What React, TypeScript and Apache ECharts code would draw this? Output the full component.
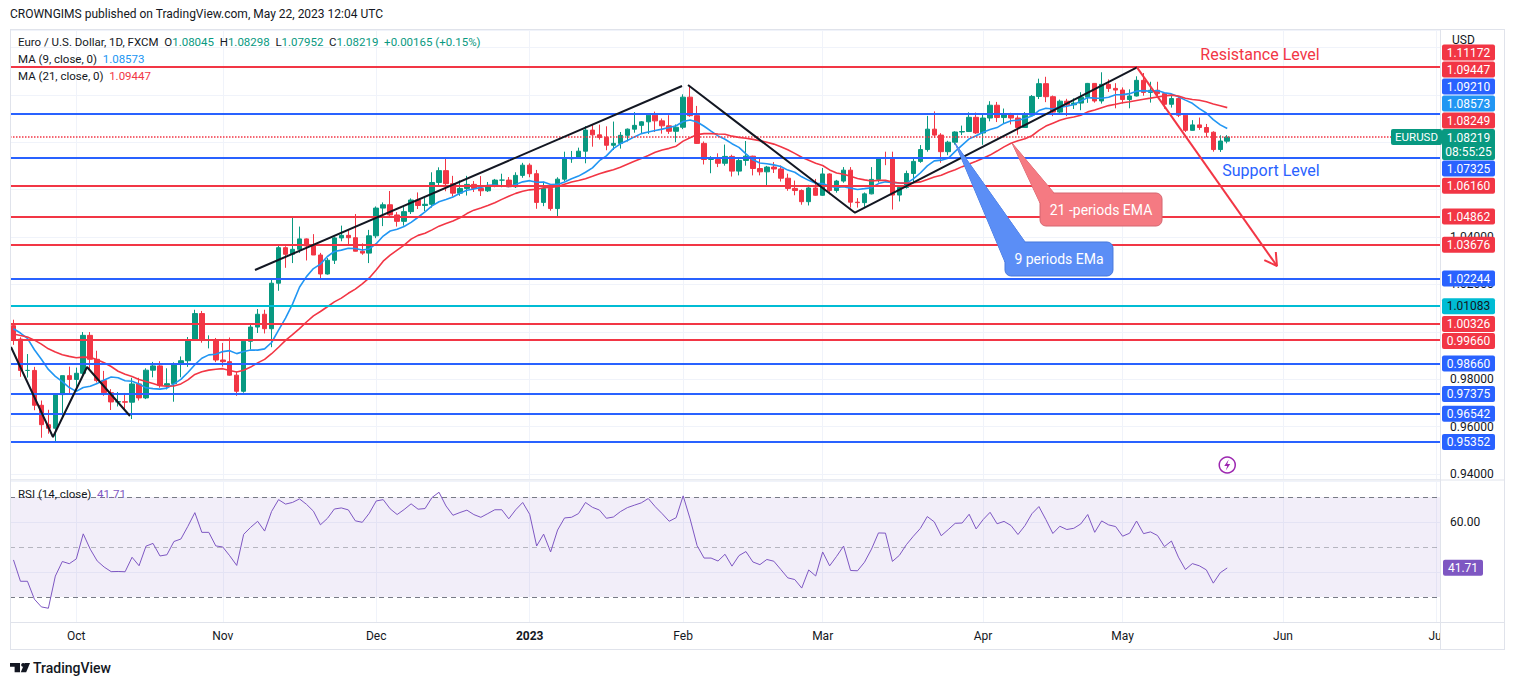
import { useEffect, useRef } from "react";
import * as echarts from "echarts";

const W = 1514;
const H = 685;
const FONT = "Roboto, 'Liberation Sans', sans-serif";
const INK = "#131722";
const RED = "#f23645";
const BLUE = "#2962ff";
const TEAL = "#00bcd4";
const UP = "#089981";
const MA9_COLOR = "#2196f3";
const MA21_COLOR = "#f23645";
const RSI_COLOR = "#7e57c2";
const GRID_LINE = "#f0f3fa";
const FRAME = "#e0e3eb";

// closes before the visible window (Jul 18 - Sep 19 2022), only used to seed MA / RSI
const warmupCloses = [
  1.0141, 1.0228, 1.018, 1.0229, 1.0211, 1.0223, 1.012, 1.0198, 1.0197, 1.022,
  1.026, 1.0163, 1.0168, 1.0246, 1.018,
  1.0196, 1.0212, 1.0297, 1.0321, 1.0258,
  1.0161, 1.017, 1.0178, 1.0086, 1.0039,
  0.9943, 0.9968, 0.9967, 0.9973, 0.9965,
  1.0003, 1.0017, 1.0054, 0.9946, 0.9953,
  0.9929, 0.9903, 1.001, 1.0001, 1.0041,
  1.0121, 0.9969, 0.9978, 0.9997, 1.0014,
  1.0026,
];

// one row per trading day from Sep 20 2022 to May 22 2023: [open, high, low, close]
const candles: number[][] = [
  // Sep
  [1.0026, 1.0051, 0.9945, 0.9969], [0.9969, 0.9977, 0.981, 0.9837], [0.9837, 0.9906, 0.9807, 0.9837],
  [0.9837, 0.9852, 0.9669, 0.969], [0.969, 0.971, 0.9553, 0.9608], [0.9608, 0.9671, 0.957, 0.9593],
  [0.9593, 0.9737, 0.9535, 0.9735], [0.9735, 0.9815, 0.9635, 0.9815], [0.9815, 0.9853, 0.9737, 0.9799],
  // Oct
  [0.9799, 0.9849, 0.975, 0.9825], [0.9825, 0.9999, 0.9815, 0.9985], [0.9985, 0.9999, 0.9835, 0.9884],
  [0.9884, 0.992, 0.9786, 0.9794], [0.9794, 0.9835, 0.973, 0.9743], [0.9743, 0.9758, 0.967, 0.9704],
  [0.9704, 0.9746, 0.9685, 0.9705], [0.9705, 0.9742, 0.9668, 0.9703], [0.9703, 0.9806, 0.9632, 0.978],
  [0.978, 0.9806, 0.971, 0.9721], [0.9721, 0.9846, 0.9716, 0.9838], [0.9838, 0.9873, 0.9808, 0.9856],
  [0.9856, 0.9876, 0.9764, 0.9774], [0.9774, 0.9846, 0.9757, 0.9781], [0.9781, 0.9871, 0.9705, 0.9862],
  [0.9862, 0.9896, 0.9808, 0.9878], [0.9878, 0.9978, 0.9852, 0.9965], [0.9965, 1.0093, 0.9962, 1.0077],
  [1.0077, 1.0088, 0.9954, 0.9965], [0.9965, 0.9985, 0.993, 0.9965], [0.9965, 0.9974, 0.9872, 0.9881],
  // Nov
  [0.9881, 0.9953, 0.9853, 0.9874], [0.9874, 0.9976, 0.9815, 0.9817], [0.9817, 0.9832, 0.973, 0.9749],
  [0.9749, 0.9965, 0.9743, 0.996], [0.996, 1.0034, 0.9925, 1.002], [1.002, 1.0096, 0.9995, 1.0074],
  [1.0074, 1.0093, 0.9993, 1.0013], [1.0013, 1.0222, 0.9935, 1.0205], [1.0205, 1.0364, 1.0173, 1.0355],
  [1.0355, 1.0361, 1.027, 1.0327], [1.0327, 1.0481, 1.029, 1.0348], [1.0348, 1.0444, 1.0333, 1.0392],
  [1.0392, 1.0394, 1.0301, 1.0362], [1.0362, 1.0412, 1.0325, 1.0324], [1.0324, 1.0333, 1.0223, 1.0244],
  [1.0244, 1.0311, 1.0241, 1.0302], [1.0302, 1.0401, 1.0286, 1.0396], [1.0396, 1.0448, 1.0382, 1.0407],
  [1.0407, 1.0429, 1.0362, 1.0397], [1.0397, 1.0497, 1.0341, 1.034], [1.034, 1.0373, 1.0325, 1.0332],
  [1.0332, 1.043, 1.029, 1.0405],
  // Dec
  [1.0405, 1.0529, 1.0395, 1.0522], [1.0522, 1.0546, 1.0446, 1.0536], [1.0536, 1.0594, 1.0485, 1.0493],
  [1.0493, 1.0505, 1.0444, 1.0466], [1.0466, 1.0531, 1.0448, 1.0507], [1.0507, 1.0563, 1.0497, 1.0556],
  [1.0556, 1.0588, 1.0518, 1.0533], [1.0533, 1.0567, 1.0509, 1.0538], [1.0538, 1.0673, 1.0524, 1.063],
  [1.063, 1.0694, 1.0618, 1.068], [1.068, 1.0735, 1.0593, 1.0625], [1.0625, 1.0658, 1.0571, 1.0585],
  [1.0585, 1.0639, 1.0574, 1.0605], [1.0605, 1.0658, 1.0575, 1.0622], [1.0622, 1.0636, 1.059, 1.0605],
  [1.0605, 1.0657, 1.0573, 1.0595], [1.0595, 1.0632, 1.059, 1.0617], [1.0617, 1.0645, 1.061, 1.064],
  [1.064, 1.0667, 1.061, 1.064], [1.064, 1.0653, 1.061, 1.0612], [1.0612, 1.0673, 1.0607, 1.066],
  [1.066, 1.0713, 1.065, 1.0703],
  // Jan
  [1.0703, 1.0711, 1.0652, 1.0667], [1.0667, 1.0683, 1.0519, 1.0546], [1.0546, 1.0633, 1.053, 1.0605],
  [1.0605, 1.0615, 1.0511, 1.052], [1.052, 1.0652, 1.0483, 1.0644], [1.0644, 1.076, 1.0636, 1.073],
  [1.073, 1.0763, 1.0713, 1.0735], [1.0735, 1.0777, 1.073, 1.0762], [1.0762, 1.0868, 1.0711, 1.0851],
  [1.0851, 1.0873, 1.0781, 1.0831], [1.0831, 1.0874, 1.0811, 1.082], [1.082, 1.0867, 1.0766, 1.0787],
  [1.0787, 1.0887, 1.0767, 1.0795], [1.0795, 1.0843, 1.0773, 1.0829], [1.0829, 1.0858, 1.0803, 1.0855],
  [1.0855, 1.0927, 1.084, 1.0871], [1.0871, 1.0889, 1.0835, 1.0886], [1.0886, 1.0918, 1.0835, 1.0914],
  [1.0914, 1.0929, 1.0843, 1.089], [1.089, 1.09, 1.0836, 1.0869], [1.0869, 1.0914, 1.0835, 1.0846],
  [1.0846, 1.0875, 1.08, 1.0863],
  // Feb
  [1.0863, 1.1002, 1.0855, 1.099], [1.099, 1.1033, 1.0907, 1.0912], [1.0912, 1.0953, 1.0793, 1.0795],
  [1.0795, 1.0803, 1.0706, 1.0727], [1.0727, 1.0741, 1.0669, 1.0727], [1.0727, 1.0753, 1.0695, 1.0711],
  [1.0711, 1.079, 1.0701, 1.074], [1.074, 1.0747, 1.0655, 1.0678], [1.0678, 1.0734, 1.066, 1.0723],
  [1.0723, 1.0805, 1.0701, 1.0741], [1.0741, 1.0743, 1.066, 1.0689], [1.0689, 1.073, 1.066, 1.0675],
  [1.0675, 1.07, 1.0612, 1.0695], [1.0695, 1.0716, 1.067, 1.0687], [1.0687, 1.0702, 1.0634, 1.0648],
  [1.0648, 1.0667, 1.0595, 1.0605], [1.0605, 1.0638, 1.0576, 1.0596], [1.0596, 1.0601, 1.0536, 1.0549],
  [1.0549, 1.062, 1.0533, 1.0607], [1.0607, 1.0645, 1.0574, 1.0576],
  // Mar
  [1.0576, 1.0691, 1.0573, 1.0666], [1.0666, 1.0669, 1.058, 1.0596], [1.0596, 1.0641, 1.0587, 1.0636],
  [1.0636, 1.0695, 1.0629, 1.0682], [1.0682, 1.0695, 1.0524, 1.0547], [1.0547, 1.0564, 1.0524, 1.0545],
  [1.0545, 1.0588, 1.0527, 1.0582], [1.0582, 1.0695, 1.058, 1.0643], [1.0643, 1.0737, 1.063, 1.0732],
  [1.0732, 1.076, 1.0703, 1.0731], [1.0731, 1.076, 1.0516, 1.0577], [1.0577, 1.0613, 1.055, 1.0609],
  [1.0609, 1.068, 1.0604, 1.0668], [1.0668, 1.073, 1.063, 1.0719], [1.0719, 1.0788, 1.0713, 1.0769],
  [1.0769, 1.0911, 1.076, 1.0855], [1.0855, 1.093, 1.0818, 1.083], [1.083, 1.0838, 1.0713, 1.076],
  [1.076, 1.0806, 1.0745, 1.08], [1.08, 1.0846, 1.079, 1.0843], [1.0843, 1.087, 1.083, 1.0845],
  [1.0845, 1.0926, 1.0843, 1.0905], [1.0905, 1.0925, 1.0835, 1.0839],
  // Apr
  [1.0839, 1.0919, 1.0789, 1.0902], [1.0902, 1.0973, 1.0888, 1.0956], [1.0956, 1.097, 1.0885, 1.0904],
  [1.0904, 1.0942, 1.0878, 1.092], [1.092, 1.0924, 1.0875, 1.0902], [1.0902, 1.0913, 1.0832, 1.0862],
  [1.0862, 1.0927, 1.086, 1.0914], [1.0914, 1.0999, 1.0911, 1.0993], [1.0993, 1.1068, 1.0982, 1.1047],
  [1.1047, 1.1076, 1.0969, 1.0992], [1.0992, 1.0997, 1.091, 1.0927], [1.0927, 1.098, 1.0915, 1.0973],
  [1.0973, 1.0983, 1.091, 1.0958], [1.0958, 1.0985, 1.094, 1.0965], [1.0965, 1.1011, 1.0935, 1.099],
  [1.099, 1.105, 1.0966, 1.1048], [1.1048, 1.1049, 1.0967, 1.0974], [1.0974, 1.1095, 1.0963, 1.1044],
  [1.1044, 1.1065, 1.1012, 1.1027], [1.1027, 1.1049, 1.0943, 1.102],
  // May
  [1.102, 1.1031, 1.0963, 1.098], [1.098, 1.1023, 1.0943, 1.0995], [1.0995, 1.1078, 1.0993, 1.1061],
  [1.1061, 1.1092, 1.0996, 1.101], [1.101, 1.1055, 1.0967, 1.1019], [1.1019, 1.1055, 1.0994, 1.1005],
  [1.1005, 1.1006, 1.0941, 1.096], [1.096, 1.0995, 1.0946, 1.0984], [1.0984, 1.099, 1.0906, 1.0914],
  [1.0914, 1.0919, 1.0843, 1.085], [1.085, 1.0893, 1.0849, 1.0873], [1.0873, 1.0904, 1.0852, 1.0862],
  [1.0862, 1.0877, 1.0821, 1.0842], [1.0842, 1.0846, 1.076, 1.0769], [1.0769, 1.0829, 1.0759, 1.0805],
  [1.08045, 1.08298, 1.07952, 1.08219],
];

// horizontal levels drawn on the chart
const redLevels = [1.11172, 1.08249, 1.0616, 1.04862, 1.03676, 1.00326, 0.9966];
const blueLevels = [1.0921, 1.07325, 1.02244, 0.9866, 0.97375, 0.96542, 0.95352];
const tealLevels = [1.01083];
const dottedLevel = 1.08249;

// scale labels that are not covered by the tags
const priceAxisLabels = [0.94, 0.96, 0.98, 1.02, 1.04];
const rsiAxisLabels = [60];

// values shown in the legend / price scale
const lastMa9 = 1.08573;
const lastMa21 = 1.09447;
const lastRsi = 41.71;
const priceChange = "+0.00165 (+0.15%)";
const countdown = "08:55:25";

// trend-line drawings, [bar index, price]
const zigzagLine = [[-0.36, 0.99358], [5.66, 0.95561], [10.54, 0.98515], [16.7, 0.96447]];
const channelLine = [[34.62, 1.02607], [95.84, 1.10371]];
const waveLine = [[96.7, 1.10413], [120.63, 1.05025], [161.06, 1.1116]];
const arrowLine = [[161.06, 1.1116], [181.13, 1.02776]];
const arrowHead = [[180.96, 1.03367], [181.13, 1.02776], [179.31, 1.03025]];

// callouts: tip, box corners, pointer base
const ema21Callout = { text: "21 -periods EMA", tip: [143.14, 1.07966], tl: [147.16, 1.05856], br: [164.65, 1.04464], b1: [147.16, 1.05434], b2: [149.16, 1.05856] };
const ema9Callout = { text: "9 periods EMa", tip: [134.97, 1.07966], tl: [142.14, 1.03789], br: [157.62, 1.02355], b1: [142.14, 1.02945], b2: [145.01, 1.03789] };
const resistanceText = { text: "Resistance Level", at: [178.7, 1.11721] };
const supportText = { text: "Support Level", at: [180.27, 1.06785] };

const TOTAL_BARS = 205;
const MONTHS = ["Jan", "Feb", "Mar", "Apr", "May", "Jun", "Jul", "Aug", "Sep", "Oct", "Nov", "Dec"];

const dates: string[] = [];
for (let t = Date.UTC(2022, 8, 20); dates.length < TOTAL_BARS; t += 86400000) {
  const d = new Date(t);
  const wd = d.getUTCDay();
  if (wd === 0 || wd === 6) continue;
  dates.push(d.toISOString().slice(0, 10));
}
const monthStarts = new Set<number>();
dates.forEach((d, i) => {
  if (i > 0 && d.slice(5, 7) !== dates[i - 1].slice(5, 7)) monthStarts.add(i);
});

const closesAll = warmupCloses.concat(candles.map((c) => c[3]));
const offset = warmupCloses.length;

function sma(n: number) {
  return candles.map((_, i) => {
    const g = i + offset;
    let s = 0;
    for (let k = g - n + 1; k <= g; k++) s += closesAll[k];
    return +(s / n).toFixed(5);
  });
}

function rsi(n: number) {
  let ag = 0;
  let al = 0;
  const out: number[] = [];
  for (let g = 1; g < closesAll.length; g++) {
    const ch = closesAll[g] - closesAll[g - 1];
    const gain = Math.max(ch, 0);
    const loss = Math.max(-ch, 0);
    if (g <= n) {
      ag += gain / n;
      al += loss / n;
    } else {
      ag = (ag * (n - 1) + gain) / n;
      al = (al * (n - 1) + loss) / n;
    }
    if (g >= offset) out.push(+(al === 0 ? 100 : 100 - 100 / (1 + ag / al)).toFixed(2));
  }
  return out;
}

const near = (list: number[], v: number) => list.some((x) => Math.abs(x - v) < 1e-6);

function txt(x: number, y: number, text: string, fill: string, size: number, align = "left", extra: any = {}) {
  return {
    type: "text",
    x,
    y,
    z: 60,
    silent: true,
    style: {
      text,
      fill,
      font: `${extra.weight || "normal"} ${size}px ${FONT}`,
      textAlign: align,
      align,
      textVerticalAlign: "middle",
      verticalAlign: "middle",
      rich: extra.rich,
    },
  };
}

function hline(x1: number, x2: number, y: number, color = FRAME) {
  return { type: "line", z: 40, silent: true, shape: { x1, y1: y, x2, y2: y }, style: { stroke: color, lineWidth: 1 } };
}
function vline(x: number, y1: number, y2: number, color = FRAME) {
  return { type: "line", z: 40, silent: true, shape: { x1: x, y1, x2: x, y2 }, style: { stroke: color, lineWidth: 1 } };
}

function buildOption(): any {
  const ma9 = sma(9);
  const ma21 = sma(21);
  const rsiValues = rsi(14);
  const blank = dates.map(() => "-");
  const monthLines = Array.from(monthStarts).map((i) => ({ xAxis: dates[i] }));
  const drawing = (data: number[][], color: string) => ({
    type: "line",
    xAxisIndex: 2,
    yAxisIndex: 0,
    data,
    symbol: "none",
    silent: true,
    z: 8,
    lineStyle: { color, width: 2 },
  });
  const levelData = [
    ...redLevels.map((v) => ({ yAxis: v, lineStyle: { color: RED, width: v === dottedLevel ? 1.5 : 2, type: v === dottedLevel ? "dotted" : "solid" } })),
    ...blueLevels.map((v) => ({ yAxis: v, lineStyle: { color: BLUE, width: 2, type: "solid" } })),
    ...tealLevels.map((v) => ({ yAxis: v, lineStyle: { color: TEAL, width: 2, type: "solid" } })),
  ];

  return {
    animation: false,
    backgroundColor: "#ffffff",
    textStyle: { fontFamily: FONT },
    grid: [
      { left: 10, top: 30, width: 1430, height: 449 },
      { left: 10, top: 481, width: 1430, height: 141 },
    ],
    xAxis: [
      { type: "category", gridIndex: 0, data: dates, boundaryGap: true, axisLine: { show: false }, axisTick: { show: false }, axisLabel: { show: false }, splitLine: { show: false } },
      {
        type: "category",
        gridIndex: 1,
        data: dates,
        boundaryGap: true,
        axisLine: { show: false },
        axisTick: { show: false },
        splitLine: { show: false },
        axisLabel: {
          interval: (i: number) => monthStarts.has(i),
          margin: 8,
          color: INK,
          fontSize: 12,
          fontFamily: FONT,
          hideOverlap: false,
          formatter: (v: string) => {
            const m = +v.slice(5, 7);
            return m === 1 ? `{b|${v.slice(0, 4)}}` : MONTHS[m - 1];
          },
          rich: { b: { fontWeight: "bold", fontSize: 12, color: INK, fontFamily: FONT } },
        },
      },
      { type: "value", gridIndex: 0, min: -0.5, max: TOTAL_BARS - 0.5, show: false },
    ],
    yAxis: [
      {
        type: "value",
        gridIndex: 0,
        position: "right",
        min: 0.93789,
        max: 1.12734,
        splitNumber: 10,
        axisLine: { show: false },
        axisTick: { show: false },
        axisLabel: {
          margin: 10,
          color: INK,
          fontSize: 12,
          fontFamily: FONT,
          formatter: (v: number) => (near(priceAxisLabels, v) ? v.toFixed(5) : ""),
        },
        splitLine: { lineStyle: { color: GRID_LINE, width: 1 } },
      },
      {
        type: "value",
        gridIndex: 1,
        position: "right",
        min: 20,
        max: 76.4,
        interval: 20,
        axisLine: { show: false },
        axisTick: { show: false },
        axisLabel: {
          margin: 10,
          color: INK,
          fontSize: 12,
          fontFamily: FONT,
          formatter: (v: number) => (near(rsiAxisLabels, v) ? v.toFixed(2) : ""),
        },
        splitLine: { lineStyle: { color: GRID_LINE, width: 1 } },
      },
    ],
    series: [
      {
        type: "line",
        xAxisIndex: 0,
        yAxisIndex: 0,
        data: blank,
        silent: true,
        symbol: "none",
        z: 0,
        markLine: { silent: true, symbol: ["none", "none"], z: 0, label: { show: false }, lineStyle: { color: GRID_LINE, width: 1, type: "solid" }, data: monthLines },
      },
      {
        type: "candlestick",
        xAxisIndex: 0,
        yAxisIndex: 0,
        data: candles.map(([o, h, l, c]) => [o, c, l, h]),
        barWidth: 5,
        z: 3,
        itemStyle: { color: UP, color0: RED, borderColor: UP, borderColor0: RED, borderWidth: 1 },
        markLine: { silent: true, precision: 6, symbol: ["none", "none"], z: 6, label: { show: false }, data: levelData },
      },
      { type: "line", xAxisIndex: 0, yAxisIndex: 0, data: ma9, symbol: "none", silent: true, z: 5, lineStyle: { color: MA9_COLOR, width: 1.6 } },
      { type: "line", xAxisIndex: 0, yAxisIndex: 0, data: ma21, symbol: "none", silent: true, z: 5, lineStyle: { color: MA21_COLOR, width: 1.6 } },
      drawing(zigzagLine, INK),
      drawing(channelLine, INK),
      drawing(waveLine, INK),
      drawing(arrowLine, RED),
      drawing(arrowHead, RED),
      {
        type: "line",
        xAxisIndex: 1,
        yAxisIndex: 1,
        data: blank,
        silent: true,
        symbol: "none",
        z: 0,
        markLine: { silent: true, symbol: ["none", "none"], z: 0, label: { show: false }, lineStyle: { color: GRID_LINE, width: 1, type: "solid" }, data: monthLines },
      },
      {
        type: "line",
        xAxisIndex: 1,
        yAxisIndex: 1,
        data: rsiValues,
        symbol: "none",
        silent: true,
        z: 5,
        lineStyle: { color: RSI_COLOR, width: 1 },
        markArea: { silent: true, itemStyle: { color: "rgba(126,87,194,0.1)" }, data: [[{ yAxis: 70 }, { yAxis: 30 }]] },
        markLine: {
          silent: true,
          precision: 6,
          symbol: ["none", "none"],
          label: { show: false },
          data: [
            { yAxis: 70, lineStyle: { color: "#787b86", width: 1, type: [5, 4] } },
            { yAxis: 50, lineStyle: { color: "rgba(120,123,134,0.5)", width: 1, type: [5, 4] } },
            { yAxis: 30, lineStyle: { color: "#787b86", width: 1, type: [5, 4] } },
          ],
        },
      },
    ],
  };
}

function buildGraphic(chart: any): any[] {
  const X = (b: number) => chart.convertToPixel({ xAxisIndex: 2 }, b) as number;
  const Y = (p: number) => chart.convertToPixel({ yAxisIndex: 0 }, p) as number;
  const YR = (v: number) => chart.convertToPixel({ yAxisIndex: 1 }, v) as number;
  const P = (a: number[]) => [X(a[0]), Y(a[1])];
  const els: any[] = [];

  // frame
  els.push(hline(10, 1505, 29.5), hline(10, 1505, 649.5), hline(10, 1505, 622.5), hline(10, 1505, 480));
  els.push(vline(10.5, 29, 650), vline(1504.5, 29, 650), vline(1440.5, 29, 650));
  // clip of the last time label
  els.push({ type: "rect", z: 45, silent: true, shape: { x: 1441, y: 623, width: 63, height: 26 }, style: { fill: "#ffffff" } });

  // header and legends
  els.push(txt(10, 14, "CROWNGIMS published on TradingView.com, May 22, 2023 12:04 UTC", INK, 12));
  const last = candles[candles.length - 1];
  const rich = {
    t: { fill: INK, fontSize: 11.5, fontFamily: FONT },
    g: { fill: UP, fontSize: 11.5, fontFamily: FONT },
    b: { fill: MA9_COLOR, fontSize: 11.5, fontFamily: FONT },
    r: { fill: MA21_COLOR, fontSize: 11.5, fontFamily: FONT },
    p: { fill: RSI_COLOR, fontSize: 11.5, fontFamily: FONT },
  };
  const f5 = (v: number) => v.toFixed(5);
  els.push(
    txt(18, 42, `{t|Euro / U.S. Dollar, 1D, FXCM}  {t|O}{g|${f5(last[0])}}  {t|H}{g|${f5(last[1])}}  {t|L}{g|${f5(last[2])}}  {t|C}{g|${f5(last[3])}}  {g|${priceChange}}`, INK, 11.5, "left", { rich }),
    txt(18, 59, `{t|MA (9, close, 0)}  {b|${f5(lastMa9)}}`, INK, 11.5, "left", { rich }),
    txt(18, 76, `{t|MA (21, close, 0)}  {r|${f5(lastMa21)}}`, INK, 11.5, "left", { rich }),
    txt(18, 494, `{t|RSI (14, close)}  {p|${lastRsi.toFixed(2)}}`, INK, 11.5, "left", { rich })
  );
  els.push(txt(1452, 40, "USD", INK, 12));

  // text drawings
  const rp = P(resistanceText.at);
  els.push(txt(rp[0], rp[1], resistanceText.text, RED, 16, "center"));
  const sp = P(supportText.at);
  els.push(txt(sp[0], sp[1], supportText.text, BLUE, 16, "center"));

  // callouts
  const callout = (c: any, fill: string, stroke: string) => {
    const tl = P(c.tl);
    const br = P(c.br);
    els.push({ type: "polygon", z: 50, silent: true, shape: { points: [P(c.tip), P(c.b1), P(c.b2)] }, style: { fill, stroke, lineWidth: 1 } });
    els.push({ type: "rect", z: 51, silent: true, shape: { x: tl[0], y: tl[1], width: br[0] - tl[0], height: br[1] - tl[1], r: 6 }, style: { fill, stroke, lineWidth: 1 } });
    els.push({ type: "polygon", z: 52, silent: true, shape: { points: [P(c.tip), P(c.b1), P(c.b2)] }, style: { fill } });
    els.push(txt((tl[0] + br[0]) / 2, (tl[1] + br[1]) / 2, c.text, "#ffffff", 14, "center"));
  };
  callout(ema21Callout, "#f57a82", "#d46670");
  callout(ema9Callout, "#5b8ef6", "#4677dc");

  // event icon on the last bar
  const ex = X(candles.length - 1);
  els.push({ type: "circle", z: 50, silent: true, shape: { cx: ex, cy: 465, r: 8 }, style: { fill: "#ffffff", stroke: "#9c27b0", lineWidth: 1.5 } });
  els.push({
    type: "polygon",
    z: 51,
    silent: true,
    shape: { points: [[ex + 1.5, 459.5], [ex - 3, 466], [ex, 466], [ex - 1.5, 470.5], [ex + 3, 464], [ex, 464]] },
    style: { fill: "#9c27b0" },
  });

  // price scale tags
  const tags = [
    ...redLevels.map((v) => ({ v, bg: RED, fg: "#ffffff" })),
    ...blueLevels.map((v) => ({ v, bg: BLUE, fg: "#ffffff" })),
    ...tealLevels.map((v) => ({ v, bg: TEAL, fg: INK })),
    { v: lastMa9, bg: MA9_COLOR, fg: "#ffffff" },
    { v: lastMa21, bg: MA21_COLOR, fg: "#ffffff" },
  ];
  const close = last[3];
  const priceY = Y(close);
  const priceTop = priceY - 8;
  const priceBottom = priceTop + 31;
  const TAG_H = 17;
  const above = tags.filter((t) => t.v > close).sort((a, b) => a.v - b.v);
  const below = tags.filter((t) => t.v < close).sort((a, b) => b.v - a.v);
  const placed: any[] = [];
  let edge = priceTop;
  for (const t of above) {
    const c = Math.min(Y(t.v), edge - TAG_H / 2);
    placed.push({ ...t, c });
    edge = c - TAG_H / 2;
  }
  edge = priceBottom;
  for (const t of below) {
    const c = Math.max(Y(t.v), edge + TAG_H / 2);
    placed.push({ ...t, c });
    edge = c + TAG_H / 2;
  }
  placed.sort((a, b) => b.v - a.v);
  for (const t of placed) {
    els.push({ type: "rect", z: 55, silent: true, shape: { x: 1442, y: t.c - 8, width: 53, height: 16, r: 2 }, style: { fill: t.bg } });
    els.push({ ...txt(1468.5, t.c, f5(t.v), t.fg, 12, "center"), z: 56 });
  }
  // last price tag
  els.push({ type: "rect", z: 55, silent: true, shape: { x: 1391, y: priceTop, width: 51, height: 16, r: 2 }, style: { fill: UP } });
  els.push({ ...txt(1416.5, priceTop + 8, "EURUSD", "#ffffff", 11.5, "center"), z: 56 });
  els.push({ type: "rect", z: 55, silent: true, shape: { x: 1442, y: priceTop, width: 53, height: 31, r: 2 }, style: { fill: UP } });
  els.push({ ...txt(1468.5, priceTop + 8.5, f5(close), "#ffffff", 12, "center"), z: 56 });
  els.push({ ...txt(1468.5, priceTop + 22.5, countdown, "#ffffff", 12, "center"), z: 56 });

  // RSI tag
  const ry = YR(lastRsi);
  els.push({ type: "rect", z: 55, silent: true, shape: { x: 1443, y: ry - 8, width: 40, height: 16, r: 2 }, style: { fill: RSI_COLOR } });
  els.push({ ...txt(1463, ry, lastRsi.toFixed(2), "#ffffff", 12, "center"), z: 56 });

  // TradingView logo
  const s = 0.77;
  const lx = 10;
  const ly = 663;
  const pt = (pts: number[][]) => pts.map(([x, y]) => [lx + x * s, ly + y * s]);
  els.push({ type: "polygon", z: 50, silent: true, shape: { points: pt([[0, 0], [13, 0], [13, 12], [6, 12], [6, 5], [0, 5]]) }, style: { fill: INK } });
  els.push({ type: "circle", z: 50, silent: true, shape: { cx: lx + 17 * s, cy: ly + 2.5 * s, r: 2.5 * s }, style: { fill: INK } });
  els.push({ type: "polygon", z: 50, silent: true, shape: { points: pt([[14, 12], [19, 0], [26, 0], [21, 12]]) }, style: { fill: INK } });
  els.push(txt(33, 668, "TradingView", INK, 14, "left", { weight: 500 }));

  return els;
}

export default function App() {
  const ref = useRef<HTMLDivElement>(null);

  useEffect(() => {
    if (!ref.current) return;
    const chart = echarts.init(ref.current, null, { renderer: "svg" });
    chart.setOption(buildOption());
    chart.setOption({ graphic: buildGraphic(chart) });
    return () => {
      chart.dispose();
    };
  }, []);

  return (
    <div style={{ position: "fixed", left: 0, top: 0, width: W, height: H, background: "#ffffff" }}>
      <div ref={ref} style={{ width: W, height: H }} />
    </div>
  );
}
